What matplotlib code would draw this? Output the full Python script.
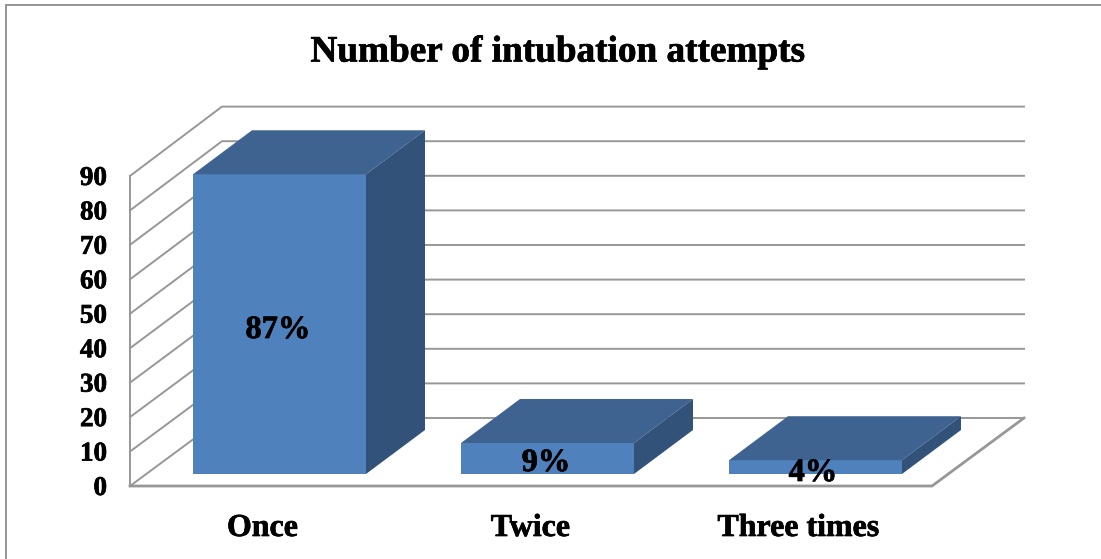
import matplotlib
matplotlib.use("Agg")
import matplotlib.pyplot as plt
import matplotlib.patheffects as pe
from matplotlib.patches import Polygon

# Chart content
title = "Number of intubation attempts"
categories = ["Once", "Twice", "Three times"]
percent_values = [87, 9, 4]
value_ticks = [0, 10, 20, 30, 40, 50, 60, 70, 80, 90]

# Oblique projection of the 3D column chart, in figure pixels
W, H = 1101, 559
FLOOR_LEFT, FLOOR_RIGHT = 130, 932
FLOOR_Y = 486
PX_PER_UNIT = 3.445
WALL_DX = 92
WALL_FLOOR_Y = 418
WALL_PX_PER_UNIT = 3.46
BAR_LEFTS = [193, 461, 729]
BAR_WIDTH = 173
BAR_BASE_Y = 474
BAR_DX, BAR_DY = 59, -44

GRID = "#979797"
FRONT = "#4F81BD"
TOP = "#3F6390"
SIDE = "#325279"
SERIF = "Liberation Serif"
HEAVY = [pe.withStroke(linewidth=0.5, foreground="black")]

fig = plt.figure(figsize=(W / 100, H / 100), dpi=100, facecolor="white")
ax = fig.add_axes([0, 0, 1, 1])
ax.set_xlim(0, W)
ax.set_ylim(H, 0)
ax.axis("off")


def front_y(value):
    return FLOOR_Y - value * PX_PER_UNIT


def wall_y(value):
    return WALL_FLOOR_Y - value * WALL_PX_PER_UNIT


def bar_y(value):
    return BAR_BASE_Y - value * PX_PER_UNIT


def bold_text(x, y, text, size, z=4):
    ax.text(x, y, text, ha="center", va="center_baseline", family=SERIF,
            weight="bold", fontsize=size, color="black", zorder=z, path_effects=HEAVY)


# Outer chart frame: left and top edges only
ax.plot([6, 6, W], [H, 5, 5], color="#8c8c8c", lw=1.3, solid_joinstyle="miter")

# Side wall and back wall gridlines
for v in value_ticks:
    ax.plot([FLOOR_LEFT, FLOOR_LEFT + WALL_DX, FLOOR_RIGHT + WALL_DX],
            [front_y(v), wall_y(v), wall_y(v)], color=GRID, lw=1.4,
            solid_joinstyle="miter", zorder=1)

# Vertical edge of the side wall and the floor outline
ax.plot([FLOOR_LEFT, FLOOR_LEFT], [front_y(90), FLOOR_Y], color=GRID, lw=1.4, zorder=1)
ax.plot([FLOOR_LEFT, FLOOR_RIGHT, FLOOR_RIGHT + WALL_DX],
        [FLOOR_Y, FLOOR_Y, wall_y(0)], color=GRID, lw=2.0,
        solid_joinstyle="miter", zorder=1)

# Columns: front, top and side faces
for left, value in zip(BAR_LEFTS, percent_values):
    right = left + BAR_WIDTH
    top = bar_y(value)
    ax.add_patch(Polygon([(left, BAR_BASE_Y), (right, BAR_BASE_Y), (right, top), (left, top)],
                         closed=True, fc=FRONT, ec="none", zorder=2))
    ax.add_patch(Polygon([(left, top), (right, top),
                          (right + BAR_DX, top + BAR_DY), (left + BAR_DX, top + BAR_DY)],
                         closed=True, fc=TOP, ec="none", zorder=2))
    ax.add_patch(Polygon([(right, BAR_BASE_Y), (right + BAR_DX, BAR_BASE_Y + BAR_DY),
                          (right + BAR_DX, top + BAR_DY), (right, top)],
                         closed=True, fc=SIDE, ec="none", zorder=2))

# Value axis labels
for v in value_ticks:
    ax.text(107, front_y(v) - 0.5, str(v), ha="right", va="center_baseline",
            family=SERIF, weight="bold", fontsize=19.5, color="black", zorder=4,
            path_effects=HEAVY)

# Category labels
for left, label in zip(BAR_LEFTS, categories):
    bold_text(left + BAR_WIDTH / 2 - 17, 525, label, 23)

# Percentage labels
label_y = [327, 460, 470]
label_x = [278, 546, 813]
for x, y, value in zip(label_x, label_y, percent_values):
    bold_text(x, y, f"{value}%", 23.4, z=5)

bold_text(558, 48, title, 26.8)

fig.savefig("out.png", dpi=100, facecolor="white")
